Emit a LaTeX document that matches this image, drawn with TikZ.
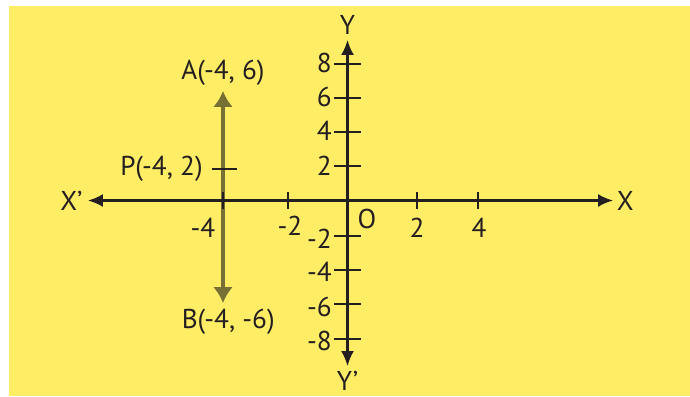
\documentclass[tikz,border=0pt]{standalone}
\usepackage{fontspec}
\setmainfont{PT Sans}
\usetikzlibrary{arrows.meta,positioning}
\definecolor{cbg}{RGB}{255,237,102}
\definecolor{cvec}{RGB}{118,112,52}
\definecolor{cink}{RGB}{35,31,32}

\begin{document}
\begin{tikzpicture}[
  x=0.02cm,y=-0.02cm,
  font=\fontsize{15.5}{18}\selectfont,
  color=cink,
  >={Latex[length=0.3cm,width=0.26cm]},
  axis/.style={<->,line width=1.2pt},
  tick/.style={line width=1.2pt},
  lbl/.style={inner sep=0pt},
  vec/.style={<->,line width=1.9pt,draw=cvec,>={Latex[length=0.32cm,width=0.4cm]}}
]
  \useasboundingbox (0,0) rectangle (690,396);
  \fill[cbg] (9,6) rectangle (690,396);

  % segment AB through P
  \coordinate (A) at (223,91);
  \coordinate (B) at (223,303);
  \draw[vec] (A) -- (B);
  \node[lbl,above=3pt of A] (alab) {A(-4, 6)};
  \node[lbl,below=3pt of B,xshift=3] (blab) {B(-4, -6)};
  \node[lbl,anchor=east] (plab) at (203,169) {P(-4, 2)};
  \draw[tick] (212,169) -- (237,169);

  % axes
  \coordinate (o) at (347.5,200.5);
  \coordinate (xl) at (88,200.5);
  \coordinate (xr) at (613,200.5);
  \coordinate (yt) at (347.5,40);
  \coordinate (yb) at (347.5,366);
  \draw[axis] (xl) -- (xr);
  \draw[axis] (yt) -- (yb);
  \node[lbl,left=3pt of xl] (xplab) {X’};
  \node[lbl,right=2pt of xr] (xlab) {X};
  \node[lbl,above=3pt of yt] (ylab) {Y};
  \node[lbl,below=3pt of yb] (yplab) {Y’};
  \node[lbl] (olab) at (367,219) {O};

  % ticks on x
  \draw[tick] (223,192) -- (223,209);
  \draw[tick] (288,192) -- (288,209);
  \draw[tick] (417,192) -- (417,209);
  \draw[tick] (478,192) -- (478,209);
  \node[lbl] (xm4) at (203,228) {-4};
  \node[lbl] (xm2) at (290,226) {-2};
  \node[lbl] (xp2) at (417,228) {2};
  \node[lbl] (xp4) at (479,228) {4};

  % ticks on y
  \draw[tick] (334,64) -- (361,64);
  \draw[tick] (334,98) -- (361,98);
  \draw[tick] (334,132) -- (361,132);
  \draw[tick] (334,166) -- (361,166);
  \draw[tick] (334,236) -- (361,236);
  \draw[tick] (334,270) -- (361,270);
  \draw[tick] (334,304) -- (361,304);
  \draw[tick] (334,339) -- (361,339);
  \node[lbl,anchor=east] (yp8) at (332,63) {8};
  \node[lbl,anchor=east] (yp6) at (332,97) {6};
  \node[lbl,anchor=east] (yp4) at (332,131) {4};
  \node[lbl,anchor=east] (yp2) at (332,166) {2};
  \node[lbl,anchor=east] (ym2) at (332,239) {-2};
  \node[lbl,anchor=east] (ym4) at (332,272) {-4};
  \node[lbl,anchor=east] (ym6) at (332,307) {-6};
  \node[lbl,anchor=east] (ym8) at (332,341) {-8};
\end{tikzpicture}
\end{document}
